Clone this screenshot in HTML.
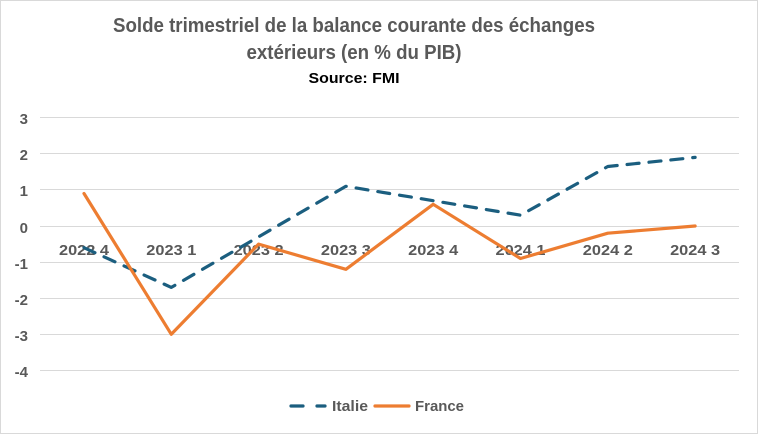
<!DOCTYPE html>
<html><head><meta charset="utf-8"><style>
html,body{margin:0;padding:0;background:#fff;}
svg{display:block;}
text{font-family:"Liberation Sans",sans-serif;font-weight:bold;}
</style></head><body>
<svg width="758" height="434" viewBox="0 0 758 434" xmlns="http://www.w3.org/2000/svg">
<rect x="0.5" y="0.5" width="757" height="433" fill="#fff" stroke="#d9d9d9" stroke-width="1"/>
<text x="354" y="32" text-anchor="middle" font-size="20" fill="#595959" textLength="482" lengthAdjust="spacingAndGlyphs">Solde trimestriel de la balance courante des échanges</text>
<text x="354" y="59" text-anchor="middle" font-size="20" fill="#595959" textLength="215" lengthAdjust="spacingAndGlyphs">extérieurs (en % du PIB)</text>
<text x="354" y="83" text-anchor="middle" font-size="15" fill="#000" textLength="91" lengthAdjust="spacingAndGlyphs">Source: FMI</text>
<g stroke="#d9d9d9" stroke-width="1">
<line x1="40" x2="739" y1="117.5" y2="117.5"/>
<line x1="40" x2="739" y1="153.5" y2="153.5"/>
<line x1="40" x2="739" y1="189.5" y2="189.5"/>
<line x1="40" x2="739" y1="226.5" y2="226.5"/>
<line x1="40" x2="739" y1="262.5" y2="262.5"/>
<line x1="40" x2="739" y1="298.5" y2="298.5"/>
<line x1="40" x2="739" y1="334.5" y2="334.5"/>
<line x1="40" x2="739" y1="370.5" y2="370.5"/>
</g>
<g font-size="15" fill="#595959" text-anchor="end">
<text x="28" y="124">3</text>
<text x="28" y="160">2</text>
<text x="28" y="196">1</text>
<text x="28" y="233">0</text>
<text x="28" y="269">-1</text>
<text x="28" y="305">-2</text>
<text x="28" y="341">-3</text>
<text x="28" y="377">-4</text>
</g>
<g font-size="15" fill="#595959" text-anchor="middle">
<text x="84" y="255" textLength="50" lengthAdjust="spacingAndGlyphs">2022 4</text>
<text x="171.3" y="255" textLength="50" lengthAdjust="spacingAndGlyphs">2023 1</text>
<text x="258.6" y="255" textLength="50" lengthAdjust="spacingAndGlyphs">2023 2</text>
<text x="345.9" y="255" textLength="50" lengthAdjust="spacingAndGlyphs">2023 3</text>
<text x="433.2" y="255" textLength="50" lengthAdjust="spacingAndGlyphs">2023 4</text>
<text x="520.5" y="255" textLength="50" lengthAdjust="spacingAndGlyphs">2024 1</text>
<text x="607.8" y="255" textLength="50" lengthAdjust="spacingAndGlyphs">2024 2</text>
<text x="695.1" y="255" textLength="50" lengthAdjust="spacingAndGlyphs">2024 3</text>
</g>
<polyline fill="none" stroke="#1b5e7f" stroke-width="3.2" stroke-linecap="round" stroke-linejoin="round" stroke-dasharray="12 10"
 points="84,247.7 171.3,287.4 258.6,236.8 345.9,186.3 433.2,200.7 520.5,215.2 607.8,166.5 695.1,157.4"/>
<polyline fill="none" stroke="#ed7d31" stroke-width="3.2" stroke-linecap="round" stroke-linejoin="round"
 points="84,193.5 171.3,334.3 258.6,244.1 345.9,269.3 433.2,204.3 520.5,258.5 607.8,233.2 695.1,226"/>
<g>
<line x1="291" y1="406" x2="303" y2="406" stroke="#1b5e7f" stroke-width="3.2" stroke-linecap="round"/>
<line x1="317" y1="406" x2="325" y2="406" stroke="#1b5e7f" stroke-width="3.2" stroke-linecap="round"/>
<text x="332" y="411" font-size="15" fill="#595959" textLength="36" lengthAdjust="spacingAndGlyphs">Italie</text>
<line x1="375" y1="406" x2="409" y2="406" stroke="#ed7d31" stroke-width="3.2" stroke-linecap="round"/>
<text x="415" y="411" font-size="15" fill="#595959" textLength="49" lengthAdjust="spacingAndGlyphs">France</text>
</g>
</svg>
</body></html>
